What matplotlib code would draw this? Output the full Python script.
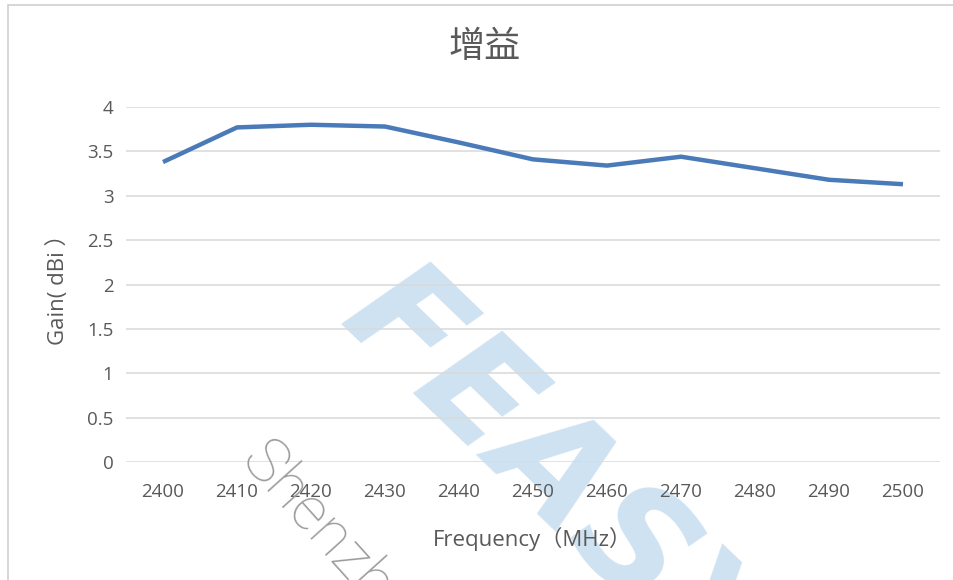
import matplotlib
matplotlib.use("Agg")
import matplotlib.pyplot as plt
from matplotlib.patches import Rectangle

plt.rcParams['font.family'] = ['Open Sans', 'Noto Sans CJK SC', 'DejaVu Sans']

freqs = ['2400', '2410', '2420', '2430', '2440', '2450', '2460', '2470', '2480', '2490', '2500']
gain = [3.38, 3.77, 3.80, 3.78, 3.60, 3.41, 3.34, 3.44, 3.31, 3.18, 3.13]
y_ticks = [0, 0.5, 1, 1.5, 2, 2.5, 3, 3.5, 4]
y_tick_labels = ['0', '0.5', '1', '1.5', '2', '2.5', '3', '3.5', '4']

W, H = 954, 580
fig = plt.figure(figsize=(W / 100, H / 100), dpi=100)
fig.patch.set_facecolor('white')

# outer chart frame
fig.patches.append(Rectangle((8 / W, -0.05), 1.2, 1 - 5 / H + 0.05,
                             transform=fig.transFigure, fill=False,
                             edgecolor='#d0d0d0', linewidth=1.2))

ax = fig.add_axes([126 / W, 1 - 462 / H, (940 - 126) / W, (462 - 107) / H])
ax.patch.set_alpha(0)
x = list(range(len(freqs)))
ax.plot(x, gain, color='#4a7ab8', linewidth=3.2, solid_capstyle='butt', zorder=3)

ax.set_xlim(-0.5, len(freqs) - 0.5)
ax.set_ylim(0, 4)
ax.set_yticks(y_ticks)
ax.set_yticklabels(y_tick_labels)
ax.set_xticks(x)
ax.set_xticklabels(freqs)
ax.grid(axis='y', color='#d9d9d9', linewidth=1.1)
ax.set_axisbelow(True)
for s in ax.spines.values():
    s.set_visible(False)
ax.tick_params(length=0, labelsize=13.5, labelcolor='#595959')
ax.tick_params(axis='x', pad=15)
ax.tick_params(axis='y', pad=9)

ax.set_xlabel('Frequency（MHz）', fontsize=16, color='#595959', labelpad=19)
ax.set_ylabel('Gain( dBi ）', fontsize=16, color='#595959', labelpad=13)
fig.text(485 / W, 1 - 48 / H, '增益', fontsize=26, color='#595959',
         ha='center', va='center')

# watermarks (behind the chart content)
fig.text(555 / W, 1 - 478 / H, 'FEASY', fontsize=106, fontweight='bold',
         fontstyle='italic', family='DejaVu Sans', color='#cfe2f2',
         rotation=-44, rotation_mode='anchor', ha='center', va='center',
         zorder=-1)
fig.text(238 / W, 1 - 462 / H, 'Shenzhen', fontsize=44, color='#9c9c9c',
         family='Roboto', fontweight='light', rotation=-48,
         rotation_mode='anchor', ha='left', va='baseline', zorder=5)

fig.savefig('out.png', dpi=100)
